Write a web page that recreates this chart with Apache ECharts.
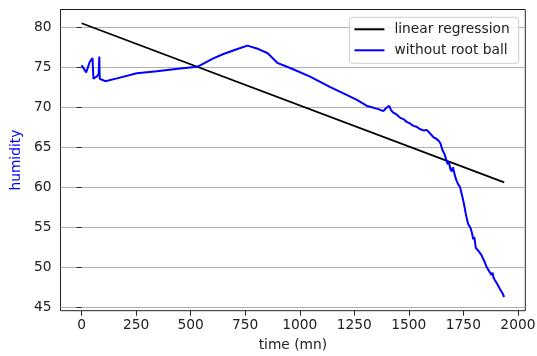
<!DOCTYPE html>
<html>
<head>
<meta charset="utf-8">
<script src="https://cdn.jsdelivr.net/npm/echarts@6/dist/echarts.min.js"></script>
<style>
  html, body { margin: 0; padding: 0; background: #fff; }
  #chart { width: 537px; height: 356px; }
</style>
</head>
<body>
<div id="chart"></div>
<script>
const timeValues = [0, 21, 37, 50, 52, 54, 70, 78, 81, 83, 108, 162, 253, 345, 452, 530,
  604, 650, 711, 760, 803, 853, 897, 956, 1045, 1140, 1217, 1262, 1308, 1322, 1360, 1383,
  1395, 1410, 1418, 1427, 1445, 1461, 1475, 1490, 1505, 1521, 1535, 1550, 1570, 1580, 1591,
  1600, 1612, 1625, 1638, 1645, 1655, 1663, 1670, 1678, 1684, 1690, 1697, 1702, 1712, 1719,
  1726, 1735, 1742, 1749, 1755, 1761, 1768, 1772, 1778, 1783, 1790, 1795, 1800, 1807, 1820,
  1833, 1845, 1856, 1868, 1879, 1884, 1888, 1894, 1905, 1917, 1928, 1937];
const humidityValues = [75.3, 74.4, 75.7, 76.2, 76.4, 73.6, 73.9, 74.2, 76.4, 73.6, 73.3, 73.65, 74.3, 74.55, 74.9, 75.1,
  76.15, 76.7, 77.3, 77.75, 77.4, 76.8, 75.6, 74.95, 73.9, 72.55, 71.55, 70.95, 70.2, 70.1, 69.8, 69.55,
  69.9, 70.2, 69.7, 69.4, 69.1, 68.7, 68.55, 68.2, 68.0, 67.7, 67.6, 67.3, 67.1, 67.2, 66.95,
  66.8, 66.3, 66.1, 65.8, 65.5, 64.6, 64.2, 63.6, 62.9, 63.2, 62.3, 62.0, 62.5, 61.4, 60.8,
  60.4, 60.0, 59.2, 58.4, 57.6, 56.7, 55.8, 55.4, 55.6, 54.9, 54.2, 53.5, 53.8, 52.4, 52.0,
  51.5, 50.8, 50.05, 49.5, 49.0, 49.3, 48.7, 48.4, 47.9, 47.3, 46.8, 46.26];

// regression line end points
const regTime = [0, 1937];
const regHumidity = [80.56, 60.63];

const xTicks = [0, 250, 500, 750, 1000, 1250, 1500, 1750, 2000];
const yTicks = [45, 50, 55, 60, 65, 70, 75, 80];

const font = 'DejaVu Sans';
const fontSize = 13.8;

const chart = echarts.init(document.getElementById('chart'), null, {renderer: 'canvas'});

chart.setOption({
  animation: false,
  backgroundColor: '#fff',
  textStyle: {fontFamily: font},
  grid: {
    left: 60.5, right: 11.7, top: 9.5, bottom: 45.3,
    show: true, borderColor: '#222', borderWidth: 1,
    outerBoundsMode: 'none'
  },
  legend: {
    orient: 'vertical',
    right: 18.3,
    top: 17.3,
    icon: 'rect',
    itemWidth: 30,
    itemHeight: 2,
    itemGap: 5,
    padding: [4, 9, 5, 5],
    backgroundColor: 'rgba(255,255,255,0.8)',
    borderColor: '#ccc',
    borderWidth: 1,
    borderRadius: 3,
    textStyle: {fontFamily: font, fontSize: fontSize, color: '#222', lineHeight: 16, padding: [0, 0, 0, 5]},
    data: ['linear regression', 'without root ball']
  },
  xAxis: {
    type: 'value',
    min: -96.85,
    max: 2033.9,
    name: 'time (mn)',
    nameLocation: 'middle',
    nameGap: 28,
    nameTextStyle: {fontFamily: font, fontSize: fontSize, color: '#222'},
    axisLine: {show: false},
    axisTick: {show: true, length: 5, lineStyle: {color: '#222'}, customValues: xTicks},
    axisLabel: {fontFamily: font, fontSize: fontSize, color: '#222', margin: 8,
      customValues: xTicks, formatter: v => String(v)},
    splitLine: {show: false}
  },
  yAxis: {
    type: 'value',
    min: 44.54,
    max: 82.28,
    name: 'humidity',
    nameLocation: 'middle',
    nameRotate: 90,
    nameGap: 30,
    nameTextStyle: {fontFamily: font, fontSize: fontSize, color: '#0000ff'},
    axisLine: {show: false},
    axisTick: {show: true, length: 5, lineStyle: {color: '#222'}, customValues: yTicks},
    axisLabel: {fontFamily: font, fontSize: fontSize, color: '#222', margin: 9,
      customValues: yTicks, formatter: v => String(v)},
    splitLine: {show: true, lineStyle: {color: '#b0b0b0', width: 1}}
  },
  series: [
    {
      name: 'linear regression',
      type: 'line',
      showSymbol: false,
      color: '#000',
      lineStyle: {width: 1.8, color: '#000'},
      data: regTime.map((t, i) => [t, regHumidity[i]]),
      z: 2
    },
    {
      name: 'without root ball',
      type: 'line',
      showSymbol: false,
      color: '#0000ff',
      lineStyle: {width: 2, color: '#0000ff'},
      data: timeValues.map((t, i) => [t, humidityValues[i]]),
      z: 3
    }
  ]
});
</script>
</body>
</html>
